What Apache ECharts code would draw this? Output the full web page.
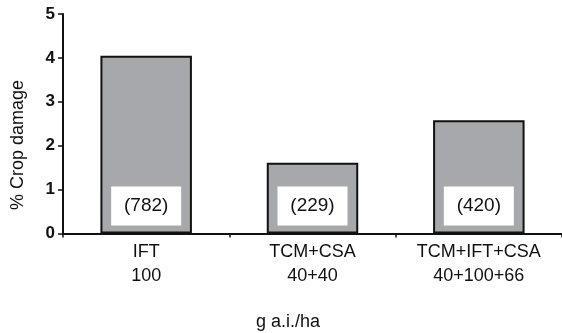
<!DOCTYPE html>
<html>
<head>
<meta charset="utf-8">
<script src="https://cdn.jsdelivr.net/npm/echarts@6/dist/echarts.min.js"></script>
<style>
html,body{margin:0;padding:0;background:#fff;}
#chart{width:562px;height:333px;}
</style>
</head>
<body>
<div id="chart"></div>
<script>
var categories = ['IFT\n100', 'TCM+CSA\n40+40', 'TCM+IFT+CSA\n40+100+66'];
var damageValues = [4.05, 1.61, 2.58];
var countLabels = ['(782)', '(229)', '(420)'];
var yTicks = [0, 1, 2, 3, 4, 5];
var yAxisTitle = '% Crop damage';
var xAxisTitle = 'g a.i./ha';

var FONT = '"Liberation Sans", Arial, sans-serif';
var chart = echarts.init(document.getElementById('chart'), null, {renderer: 'canvas'});
chart.setOption({
  animation: false,
  backgroundColor: '#fff',
  grid: {left: 63, top: 14, bottom: 99.5, right: -6, containLabel: false},
  xAxis: {
    type: 'category',
    data: categories,
    axisLine: {lineStyle: {color: '#111', width: 2}},
    axisTick: {show: true, length: 4, alignWithLabel: false, lineStyle: {color: '#111', width: 1.5}},
    axisLabel: {color: '#111', fontFamily: FONT, fontSize: 18, lineHeight: 24, margin: 7, interval: 0}
  },
  yAxis: {
    type: 'value',
    min: yTicks[0], max: yTicks[yTicks.length - 1], interval: 1,
    splitLine: {show: false},
    axisLine: {show: true, lineStyle: {color: '#111', width: 2}},
    axisTick: {show: true, length: 5, lineStyle: {color: '#111', width: 1.5}},
    axisLabel: {color: '#111', fontFamily: FONT, fontSize: 17, fontWeight: 'bold', margin: 8}
  },
  series: [{
    type: 'bar',
    data: damageValues,
    barWidth: '55%',
    itemStyle: {color: '#a7a8ab', borderColor: '#111', borderWidth: 2},
    label: {
      show: true,
      position: 'insideBottom',
      distance: 8,
      formatter: function (p) { return countLabels[p.dataIndex]; },
      color: '#111',
      fontFamily: FONT,
      fontSize: 19,
      backgroundColor: '#fff',
      width: 70,
      height: 19,
      lineHeight: 19,
      align: 'center',
      padding: [10, 0]
    }
  }],
  graphic: [
    {type: 'text', x: 18, y: 145, rotation: Math.PI / 2,
     style: {text: yAxisTitle, font: '18px ' + FONT, fill: '#111', textAlign: 'center', textVerticalAlign: 'middle'}},
    {type: 'text', x: 288, y: 322,
     style: {text: xAxisTitle, font: '18px ' + FONT, fill: '#111', textAlign: 'center', textVerticalAlign: 'middle'}}
  ]
});
</script>
</body>
</html>
